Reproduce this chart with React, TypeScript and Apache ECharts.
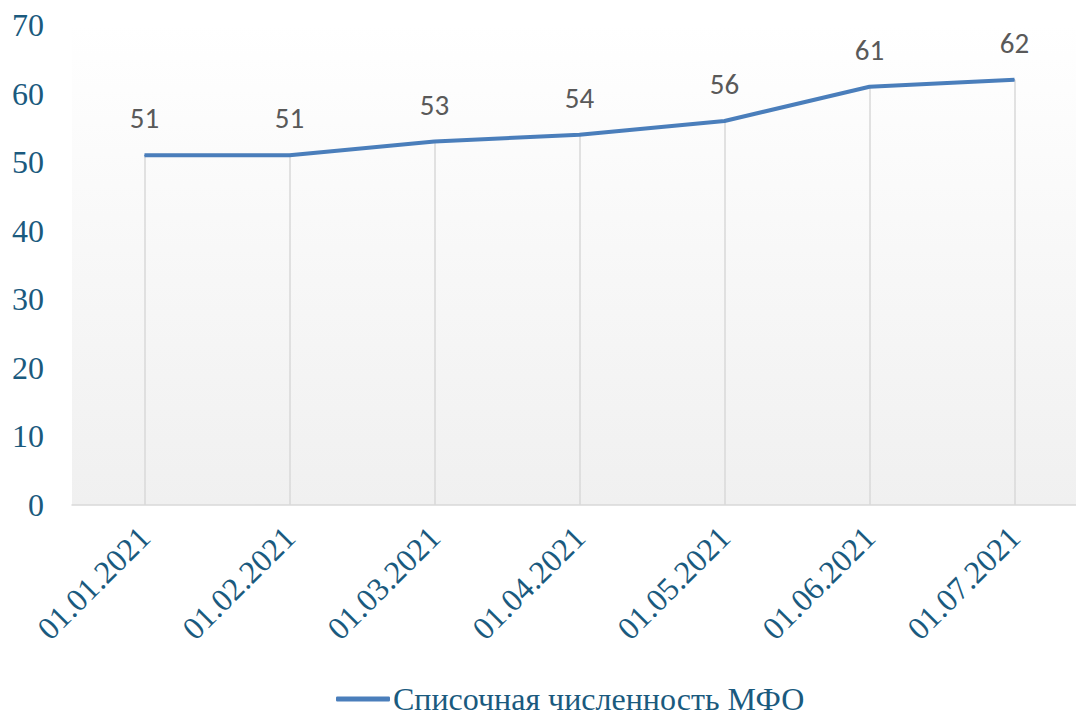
import React, { useEffect, useRef } from "react";
import * as echarts from "echarts";

const categories = ["01.01.2021", "01.02.2021", "01.03.2021", "01.04.2021", "01.05.2021", "01.06.2021", "01.07.2021"];
const values = [51, 51, 53, 54, 56, 61, 62];
const seriesName = "Списочная численность МФО";

const serif = "'Liberation Serif', 'Times New Roman', serif";

export default function App() {
  const ref = useRef<HTMLDivElement>(null);
  useEffect(() => {
    document.body.style.margin = "0";
    const chart = echarts.init(ref.current!, null, { renderer: "svg" });
    const textColor = "#1a5a7e";
    chart.setOption({
      animation: false,
      grid: {
        left: 72,
        width: 1015,
        top: 25,
        bottom: 215,
        outerBoundsMode: "none",
        show: true,
        borderWidth: 0,
        backgroundColor: new echarts.graphic.LinearGradient(0, 0, 0, 1, [
          { offset: 0, color: "#ffffff" },
          { offset: 1, color: "#f0f0f0" },
        ]),
      },
      legend: {
        bottom: 0,
        left: 331,
        icon: "roundRect",
        itemWidth: 54,
        itemHeight: 5,
        itemGap: 4,
        textStyle: { fontFamily: serif, fontSize: 32, color: textColor, padding: [0, 0, 0, -2] },
        data: [seriesName],
      },
      xAxis: {
        type: "category",
        data: categories,
        boundaryGap: true,
        axisLine: { show: true, lineStyle: { color: "#d9d9d9", width: 1.5 } },
        axisTick: { show: false },
        axisLabel: {
          rotate: 45,
          margin: 27,
          fontFamily: serif,
          fontSize: 32,
          color: textColor,
          interval: 0,
        },
        splitLine: { show: false },
      },
      yAxis: {
        type: "value",
        min: 0,
        max: 70,
        interval: 10,
        axisLine: { show: false },
        axisTick: { show: false },
        splitLine: { show: false },
        axisLabel: {
          margin: 28,
          fontFamily: serif,
          fontSize: 32,
          color: textColor,
        },
      },
      series: [
        {
          name: seriesName,
          type: "line",
          data: values,
          symbol: "circle",
          symbolSize: 1,
          showSymbol: true,
          z: 5,
          lineStyle: { color: "#4a7ebb", width: 4 },
          itemStyle: { color: "#4a7ebb" },
          label: {
            show: true,
            position: "top",
            distance: 22,
            fontFamily: "Carlito, 'Open Sans', sans-serif",
            fontSize: 29,
            color: "#595959",
          },
          markLine: {
            silent: true,
            symbol: "none",
            z: 1,
            label: { show: false },
            lineStyle: { color: "#d9d9d9", width: 1.5, type: "solid" },
            data: values.map((v, i) => [
              { coord: [categories[i], 0] },
              { coord: [categories[i], v] },
            ]),
          },
        },
      ],
    });
    return () => chart.dispose();
  }, []);
  return <div ref={ref} style={{ width: 1076, height: 720, position: "absolute", left: 0, top: 0 }} />;
}
